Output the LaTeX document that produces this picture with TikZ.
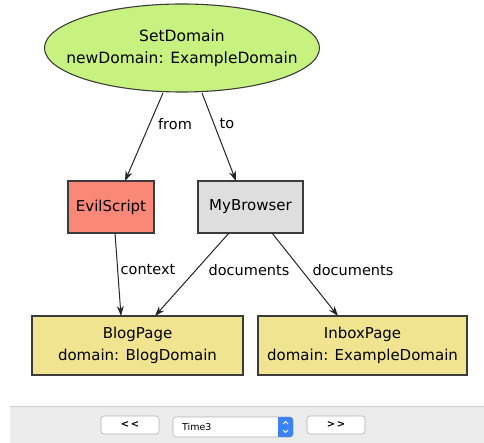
\documentclass[tikz,border=0pt]{standalone}
\usepackage{fontspec}
\setmainfont{DejaVu Sans}
\usetikzlibrary{shapes.geometric,arrows.meta}
\definecolor{egreen}{RGB}{200,242,128}
\definecolor{esalmon}{RGB}{250,136,120}
\definecolor{egray}{RGB}{222,222,222}
\definecolor{ekhaki}{RGB}{240,228,144}
\definecolor{ebord}{RGB}{60,60,60}
\definecolor{tbar}{RGB}{236,236,236}
\definecolor{tline}{RGB}{205,205,205}
\definecolor{bblue}{RGB}{60,130,245}
\tikzset{
  every node/.style={font=\fontsize{15}{22}\selectfont, text=black},
  boxnode/.style={draw=ebord, line width=1.1pt, align=center, inner sep=0pt},
  edge/.style={draw=black!85, line width=1pt, -{Stealth[length=10pt,width=7pt]}},
  elabel/.style={font=\fontsize{14.5}{16}\selectfont, inner sep=1pt},
  btn/.style={draw=black!30, fill=white, rounded corners=3pt, line width=0.6pt, inner sep=0pt, font=\fontsize{10}{12}\selectfont\bfseries}
}
\begin{document}
\begin{tikzpicture}[x=1pt,y=-1pt]
\useasboundingbox (0,0) rectangle (484,443);
\fill[white] (0,0) rectangle (484,443);
% nodes
\node[boxnode, ellipse, fill=egreen, minimum width=275, minimum height=88] (set) at (182,48) {};
\node[align=center, inner sep=0pt, font=\fontsize{15.5}{22}\selectfont] (settext) at (set.center) {SetDomain\\newDomain: ExampleDomain};
\node[boxnode, fill=esalmon, minimum width=86, minimum height=52] (evil) at (111,207) {EvilScript};
\node[boxnode, fill=egray, minimum width=105, minimum height=52] (browser) at (250.5,207) {MyBrowser};
\node[boxnode, fill=ekhaki, minimum width=211, minimum height=59] (blog) at (137.5,345.5) {BlogPage\\domain: BlogDomain};
\node[boxnode, fill=ekhaki, minimum width=209, minimum height=59] (inbox) at (362.5,345.5) {InboxPage\\domain: ExampleDomain};
% anchors
\coordinate (s1) at (163,93);
\coordinate (s2) at (202,93);
\coordinate (e1) at (125,181);
\coordinate (b1) at (236,181);
\coordinate (e2) at (115,233);
\coordinate (bl1) at (121,316);
\coordinate (b2) at (229,233);
\coordinate (bl2) at (155,316);
\coordinate (b3) at (272,233);
\coordinate (in1) at (338,316);
\draw[edge] (s1) -- (e1);
\draw[edge] (s2) -- (b1);
\draw[edge] (e2) -- (bl1);
\draw[edge] (b2) -- (bl2);
\draw[edge] (b3) -- (in1);
\node[elabel] (lfrom) at (175,124) {from};
\node[elabel] (lto) at (227,124) {to};
\node[elabel] (lctx) at (148,270) {context};
\node[elabel] (ldoc1) at (249,270) {documents};
\node[elabel] (ldoc2) at (353,270) {documents};
% toolbar
\fill[tbar] (10,406) rectangle (484,443);
\draw[tline, line width=0.8pt] (10,406) -- (484,406);
\node[btn, minimum width=58, minimum height=18] (prev) at (130,425) {{<}\kern1.5pt{<}};
\node[btn, minimum width=58, minimum height=18] (next) at (336,425) {{>}\kern1.5pt{>}};
\draw[draw=black!30, fill=white, rounded corners=3pt, line width=0.6pt] (173,417) rectangle (293,437);
\fill[bblue, rounded corners=3pt] (278,417) rectangle (293,437);
\fill[bblue] (278,417) rectangle (283,437);
\node[anchor=west, font=\fontsize{9.5}{11}\selectfont, inner sep=0pt] (combo) at (182,427) {Time3};
\draw[white, line width=0.8pt] (283,424) -- (285.5,421.5) -- (288,424);
\draw[white, line width=0.8pt] (283,430) -- (285.5,432.5) -- (288,430);
\end{tikzpicture}
\end{document}
